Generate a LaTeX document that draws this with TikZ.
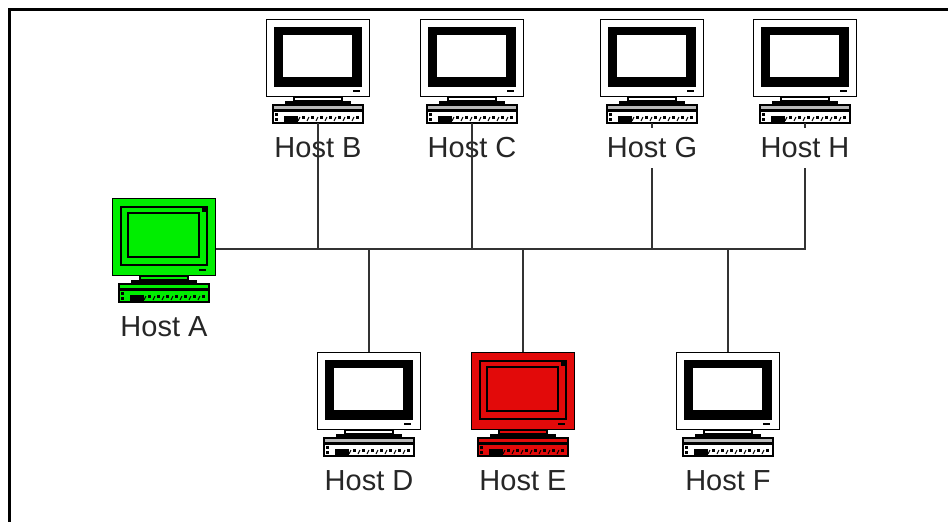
\documentclass[tikz,border=0pt]{standalone}
\usepackage{fontspec}
\setmainfont{Liberation Sans}
\usetikzlibrary{positioning}
\definecolor{hostGreen}{RGB}{0,238,0}
\definecolor{hostRed}{RGB}{226,10,10}
\definecolor{keyGray}{RGB}{185,185,185}

% name, x, y, case colour, ring colour, top band colour, key colour, label
\newcommand{\hostPC}[8]{
  \node [monitor,fill=#4] (#1) at (#2+52,#3+39) {};
  \begin{scope}[shift={(#2,#3)}]
    \draw [thinpart,fill=#5] (9,9) rectangle (95,67);
    \draw [thinpart,fill=#4] (16,15) rectangle (87,59);
    \fill (90,9) rectangle (95,14);
    \fill (87,71) rectangle (94,73);
    % stand
    \draw [thinpart,fill=#4] (28,78) rectangle (76,82);
    \fill (19,82) rectangle (85,86);
    \node [keyboard,fill=#7] (#1key) at (52,95) {};
    \fill [#6] (8,87) rectangle (96,90);
    \fill (8,90) rectangle (96,93);
    \fill (18,97) rectangle (32,103);
    \fill (9,94) rectangle (12,97);
    \fill (9,99) rectangle (12,102);
    \foreach \keyX in {36,45,...,93} {
      \fill (\keyX,97) rectangle ++(2.5,2.5);
      \draw [line width=1pt] (\keyX-4,102) -- ++(2,-4);
    }
  \end{scope}
  \node [hostlabel] (#1label) at (#2+52,#3+129) {#8};
}

\begin{document}
\begin{tikzpicture}[
    x=1pt,
    y=-1pt,
    monitor/.style={%
      draw,
      rectangle,
      line width=1.8pt,
      minimum width=103pt,
      minimum height=77pt,
      inner sep=0pt,
    },
    keyboard/.style={%
      draw,
      rectangle,
      line width=1.5pt,
      minimum width=90pt,
      minimum height=18pt,
      inner sep=0pt,
    },
    thinpart/.style={%
      draw,
      line width=1.5pt,
    },
    hostlabel/.style={%
      font=\fontsize{29}{32}\selectfont,
      text=black!85,
      minimum height=40pt,
      inner sep=0pt,
    },
    wire/.style={%
      draw,
      line width=1.5pt,
      black!80,
    },
  ]

    \useasboundingbox (0,0) rectangle (948,522);

    \draw [line width=3pt] (948,9.5) -- (9.5,9.5) -- (9.5,522);

    \hostPC{A}{112}{198}{hostGreen}{hostGreen}{hostGreen}{hostGreen}{Host A}
    \hostPC{B}{266}{19}{white}{black}{keyGray}{white}{Host B}
    \hostPC{C}{420}{19}{white}{black}{keyGray}{white}{Host C}
    \hostPC{G}{600}{19}{white}{black}{keyGray}{white}{Host G}
    \hostPC{H}{753}{19}{white}{black}{keyGray}{white}{Host H}
    \hostPC{D}{317}{352}{white}{black}{keyGray}{white}{Host D}
    \hostPC{E}{471}{352}{hostRed}{hostRed}{hostRed}{hostRed}{Host E}
    \hostPC{F}{676}{352}{white}{black}{keyGray}{white}{Host F}

    \coordinate (busA) at (216,249);

    \draw [wire] (busA) -- (busA -| Hlabel) -- (Hlabel);
    \draw [wire] (Hkey) ++(0,9) -- (Hlabel);
    \draw [wire] (Bkey) ++(0,9) -- (Bkey |- busA);
    \draw [wire] (Ckey) ++(0,9) -- (Ckey |- busA);
    \draw [wire] (Gkey) ++(0,9) -- (Glabel);
    \draw [wire] (Glabel) -- (Glabel |- busA);
    \draw [wire] (D) -- (D |- busA);
    \draw [wire] (E) -- (E |- busA);
    \draw [wire] (F) -- (F |- busA);
\end{tikzpicture}
\end{document}
